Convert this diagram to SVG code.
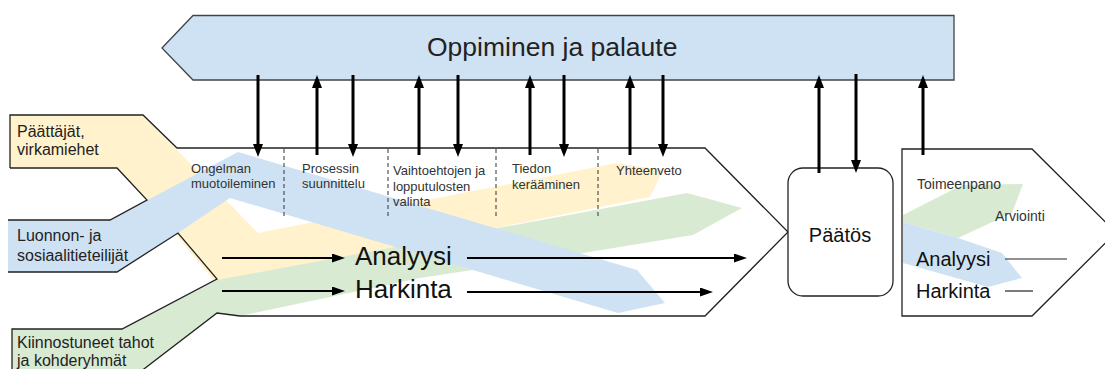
<svg xmlns="http://www.w3.org/2000/svg" width="1105" height="369" viewBox="0 0 1105 369">
<defs>
<style>
text{font-family:"Liberation Sans",Arial,sans-serif}
.out{fill:none;stroke:#222;stroke-width:1.3;stroke-linejoin:miter}
.yel{fill:#fff2cc}
.blu{fill:#cfe2f3}
.grn{fill:#d9ead3}
.lbl{font-size:16px;fill:#222}
.sm{font-size:13px;fill:#333}
.big{font-size:26px;fill:#111}
.mid{font-size:20px;fill:#111}
.rs{font-size:14px;fill:#333}
.dash{stroke:#333;stroke-width:1;stroke-dasharray:4 3}
.va{stroke:#000;stroke-width:3;fill:none}
.ha{stroke:#000;stroke-width:2;fill:none}
.thin{stroke:#222;stroke-width:1.2}
</style>
<marker id="vh" markerUnits="userSpaceOnUse" markerWidth="14" markerHeight="12" refX="0" refY="5" orient="auto"><path d="M0,0 L13,5 L0,10 z" fill="#000"/></marker>
<marker id="hh" markerUnits="userSpaceOnUse" markerWidth="14" markerHeight="10" refX="0" refY="4.5" orient="auto"><path d="M0,0 L13,4.5 L0,9 z" fill="#000"/></marker>
</defs>
<rect width="1105" height="369" fill="#fff"/>

<g id="banner">
<polygon points="162,48 193,15.5 954,15.5 954,80 193,80" fill="#cfe2f3" stroke="#444" stroke-width="1.3"/>
<text x="427" y="56" font-size="26.5" fill="#222">Oppiminen ja palaute</text>
</g>

<g id="process">
<polygon points="177,148 705,148 788,232 705,316 240,316 217,313 217,280 178,233 147,200" fill="#fff"/>
<polygon class="yel" points="10,115 143,115 258,233 617,163 663,170 650,197 217,284 147,200 117,168 10,168"/>
<polygon class="grn" points="12,329 122,329 217,280 687,193 742,208 693,235 583,253 420,278 240,316 217,313 140,372 12,372"/>
<polygon class="blu" points="8,220 110,220 238,152 637,270 665,303 618,313 230,198 178,233 117,272 8,272"/>
<path class="out" d="M10,168 V115 H143 L177,148 H705 L788,232 L705,316 H240 L217,313 L140,372"/>
<path class="out" d="M10,168 H117 L147,200 L110,220 H8"/>
<path class="out" d="M8,272 H117 L178,233 L217,279 L122,329 H12 V372"/>
<line class="dash" x1="284" y1="149" x2="284" y2="217"/>
<line class="dash" x1="388" y1="149" x2="388" y2="217"/>
<line class="dash" x1="496" y1="149" x2="496" y2="217"/>
<line class="dash" x1="598" y1="149" x2="598" y2="217"/>
<text class="sm" x="191" y="173">Ongelman</text>
<text class="sm" x="191" y="188">muotoileminen</text>
<text class="sm" x="302" y="173">Prosessin</text>
<text class="sm" x="302" y="188">suunnittelu</text>
<text class="sm" x="393" y="175">Vaihtoehtojen ja</text>
<text class="sm" x="393" y="191">lopputulosten</text>
<text class="sm" x="393" y="206">valinta</text>
<text class="sm" x="512" y="173">Tiedon</text>
<text class="sm" x="512" y="189">kerääminen</text>
<text class="sm" x="616" y="175">Yhteenveto</text>
<text class="big" x="355" y="265">Analyysi</text>
<text class="big" x="355" y="298">Harkinta</text>
</g>

<g id="stakeholder-paattajat">
<text class="lbl" x="17" y="137">Päättäjät,</text>
<text class="lbl" x="17" y="155">virkamiehet</text>
</g>
<g id="stakeholder-tieteilijat">
<text class="lbl" x="17" y="241">Luonnon- ja</text>
<text class="lbl" x="17" y="261">sosiaalitieteilijät</text>
</g>
<g id="stakeholder-tahot">
<text class="lbl" x="17" y="348">Kiinnostuneet tahot</text>
<text class="lbl" x="17" y="366">ja kohderyhmät</text>
</g>

<g id="paatos">
<rect x="788" y="168" width="105" height="128" rx="15" fill="#fff" stroke="#222" stroke-width="1.3"/>
<text class="mid" x="840" y="242" text-anchor="middle">Päätös</text>
</g>

<g id="toimeenpano">
<polygon points="902,149 1032,149 1116,232.5 1032,316 902,316" fill="#fff"/>
<polygon class="grn" points="903,215 962,185 1023,184 1012,213 958,238 903,222"/>
<polygon class="blu" points="903,222 958,238 1002,253 1022,278 988,287 903,263"/>
<polygon class="out" points="902,149 1032,149 1116,232.5 1032,316 902,316"/>
<text class="rs" x="917" y="189">Toimeenpano</text>
<text class="rs" x="995" y="221">Arviointi</text>
<text class="mid" x="916" y="266">Analyysi</text>
<text class="mid" x="916" y="298">Harkinta</text>
<line class="thin" x1="1005" y1="259" x2="1067" y2="259"/>
<line class="thin" x1="1005" y1="291" x2="1033" y2="291"/>
</g>

<g id="connectors">
<line class="va" x1="258" y1="75" x2="258" y2="144" marker-end="url(#vh)"/>
<line class="va" x1="317" y1="155" x2="317" y2="88" marker-end="url(#vh)"/>
<line class="va" x1="353" y1="75" x2="353" y2="144" marker-end="url(#vh)"/>
<line class="va" x1="419" y1="155" x2="419" y2="88" marker-end="url(#vh)"/>
<line class="va" x1="458" y1="75" x2="458" y2="144" marker-end="url(#vh)"/>
<line class="va" x1="530" y1="155" x2="530" y2="88" marker-end="url(#vh)"/>
<line class="va" x1="564" y1="75" x2="564" y2="144" marker-end="url(#vh)"/>
<line class="va" x1="630" y1="155" x2="630" y2="88" marker-end="url(#vh)"/>
<line class="va" x1="663" y1="75" x2="663" y2="144" marker-end="url(#vh)"/>
<line class="va" x1="819" y1="173" x2="819" y2="88" marker-end="url(#vh)"/>
<line class="va" x1="856" y1="74" x2="856" y2="160" marker-end="url(#vh)"/>
<line class="va" x1="923" y1="155" x2="923" y2="88" marker-end="url(#vh)"/>
<line class="ha" x1="222" y1="258" x2="332" y2="258" marker-end="url(#hh)"/>
<line class="ha" x1="467" y1="258" x2="734" y2="258" marker-end="url(#hh)"/>
<line class="ha" x1="222" y1="291" x2="332" y2="291" marker-end="url(#hh)"/>
<line class="ha" x1="467" y1="292" x2="700" y2="292" marker-end="url(#hh)"/>
</g>
</svg>
